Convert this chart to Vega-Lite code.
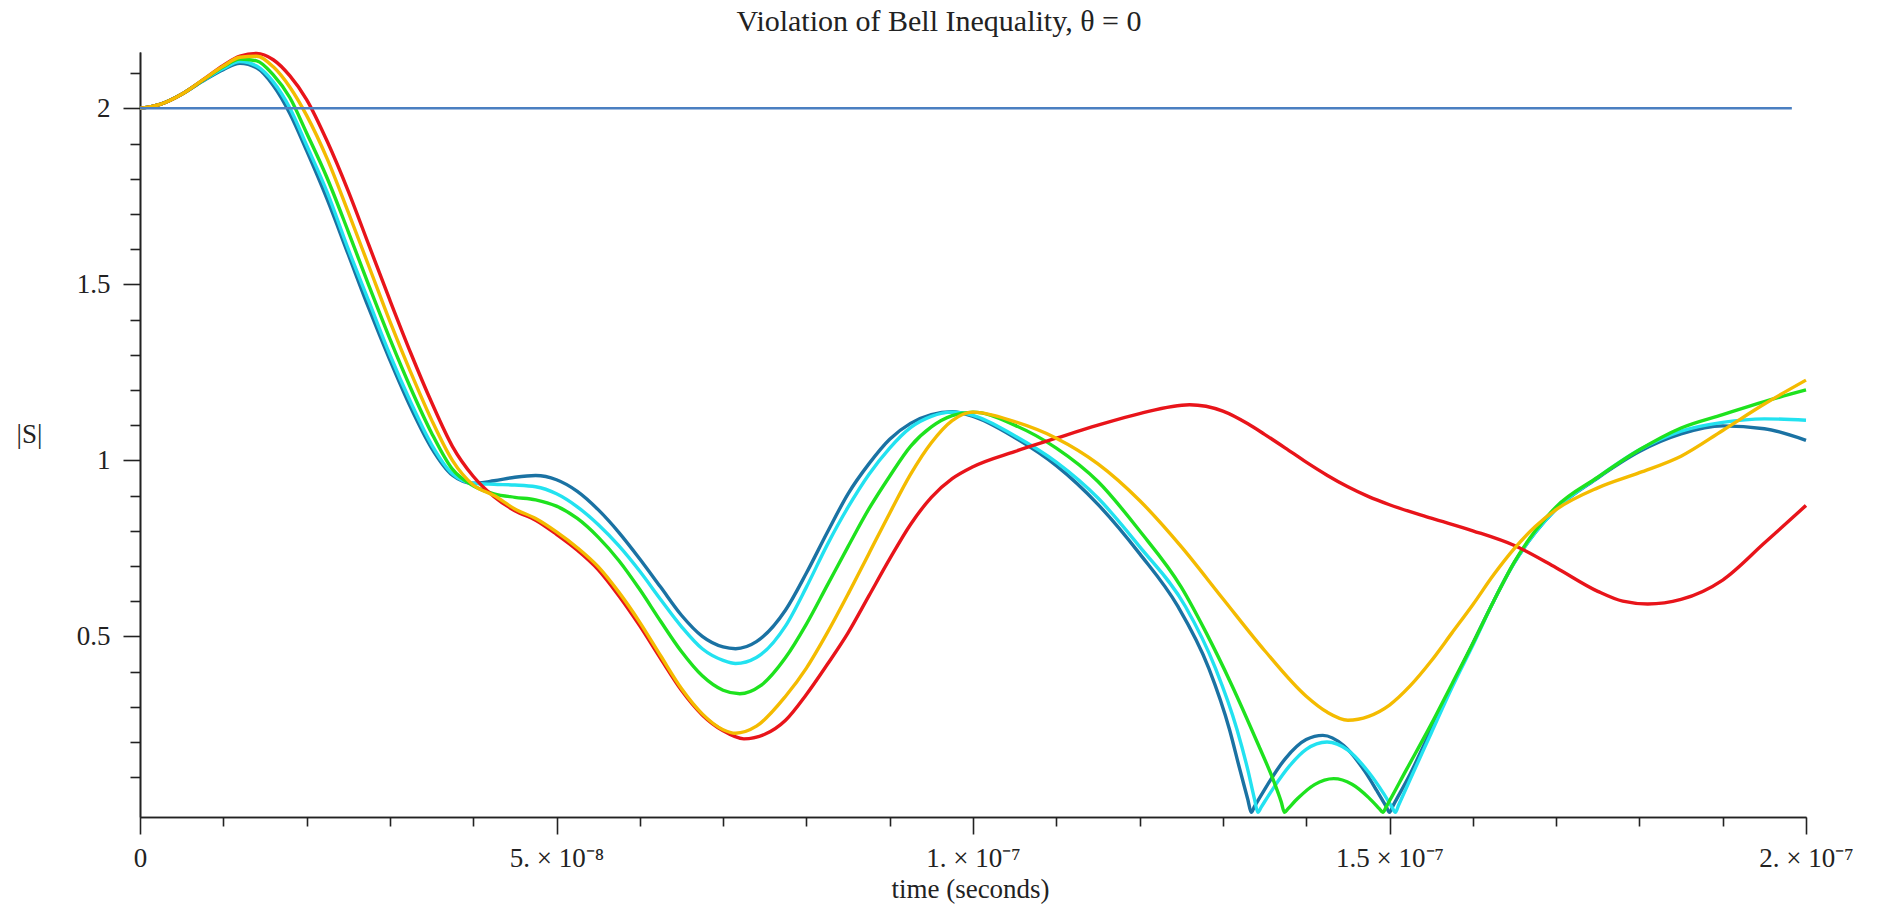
{
"$schema": "https://vega.github.io/schema/vega-lite/v6.json",
"width": 1666, "height": 765,
"autosize": {"type": "none"},
"padding": {"left": 140, "top": 52, "right": 77, "bottom": 90},
"background": "white",
"title": {"text": "Violation of Bell Inequality, θ = 0", "font": "Liberation Serif", "fontSize": 30, "fontWeight": "normal", "color": "#222", "anchor": "middle", "frame": "group", "dx": -34, "offset": 10},
"config": {"view": {"stroke": null}, "axis": {"grid": false, "domainColor": "#222", "tickColor": "#222", "domainWidth": 1.6, "tickWidth": 1.6, "labelFont": "Liberation Serif", "labelFontSize": 27, "labelColor": "#222", "titleFont": "Liberation Serif", "titleFontSize": 27, "titleFontWeight": "normal", "titleColor": "#222", "labelOverlap": false, "labelBound": false, "labelFlush": false}},
"datasets": {"curves": [
{"series":"s1","time":0,"S":2.0},{"series":"s1","time":0.25e-8,"S":2.012},{"series":"s1","time":0.5e-8,"S":2.04},{"series":"s1","time":0.75e-8,"S":2.077},{"series":"s1","time":1.0e-8,"S":2.11},{"series":"s1","time":1.2e-8,"S":2.128},{"series":"s1","time":1.4e-8,"S":2.115},{"series":"s1","time":1.6e-8,"S":2.065},{"series":"s1","time":1.8e-8,"S":1.985},{"series":"s1","time":2.0e-8,"S":1.88},{"series":"s1","time":2.25e-8,"S":1.74},{"series":"s1","time":2.5e-8,"S":1.585},{"series":"s1","time":2.75e-8,"S":1.43},{"series":"s1","time":3.0e-8,"S":1.285},{"series":"s1","time":3.25e-8,"S":1.15},{"series":"s1","time":3.5e-8,"S":1.035},{"series":"s1","time":3.75e-8,"S":0.958},{"series":"s1","time":4.0e-8,"S":0.935},{"series":"s1","time":4.25e-8,"S":0.942},{"series":"s1","time":4.5e-8,"S":0.952},{"series":"s1","time":4.75e-8,"S":0.957},{"series":"s1","time":5.0e-8,"S":0.945},{"series":"s1","time":5.25e-8,"S":0.912},{"series":"s1","time":5.5e-8,"S":0.86},{"series":"s1","time":5.75e-8,"S":0.795},{"series":"s1","time":6.0e-8,"S":0.72},{"series":"s1","time":6.25e-8,"S":0.64},{"series":"s1","time":6.5e-8,"S":0.56},{"series":"s1","time":6.75e-8,"S":0.5},{"series":"s1","time":7.0e-8,"S":0.47},{"series":"s1","time":7.15e-8,"S":0.465},{"series":"s1","time":7.4e-8,"S":0.485},{"series":"s1","time":7.75e-8,"S":0.575},{"series":"s1","time":8.0e-8,"S":0.68},{"series":"s1","time":8.25e-8,"S":0.795},{"series":"s1","time":8.5e-8,"S":0.905},{"series":"s1","time":8.75e-8,"S":0.99},{"series":"s1","time":9.0e-8,"S":1.06},{"series":"s1","time":9.25e-8,"S":1.105},{"series":"s1","time":9.5e-8,"S":1.13},{"series":"s1","time":9.75e-8,"S":1.138},{"series":"s1","time":10.0e-8,"S":1.125},{"series":"s1","time":10.5e-8,"S":1.065},{"series":"s1","time":11.0e-8,"S":0.985},{"series":"s1","time":11.5e-8,"S":0.875},{"series":"s1","time":12.0e-8,"S":0.735},{"series":"s1","time":12.46e-8,"S":0.585},{"series":"s1","time":12.83e-8,"S":0.41},{"series":"s1","time":13.08e-8,"S":0.235},{"series":"s1","time":13.2e-8,"S":0.125},{"series":"s1","time":13.3e-8,"S":0.036},{"series":"s1","time":13.34e-8,"S":0.0},{"series":"s1","time":13.38e-8,"S":0.017},{"series":"s1","time":13.5e-8,"S":0.065},{"series":"s1","time":13.75e-8,"S":0.153},{"series":"s1","time":14.0e-8,"S":0.207},{"series":"s1","time":14.2e-8,"S":0.219},{"series":"s1","time":14.45e-8,"S":0.19},{"series":"s1","time":14.7e-8,"S":0.118},{"series":"s1","time":14.85e-8,"S":0.061},{"series":"s1","time":14.96e-8,"S":0.017},{"series":"s1","time":15.0e-8,"S":0.0},{"series":"s1","time":15.04e-8,"S":0.018},{"series":"s1","time":15.25e-8,"S":0.11},{"series":"s1","time":15.5e-8,"S":0.235},{"series":"s1","time":15.75e-8,"S":0.36},{"series":"s1","time":16.0e-8,"S":0.48},{"series":"s1","time":16.25e-8,"S":0.6},{"series":"s1","time":16.5e-8,"S":0.71},{"series":"s1","time":16.75e-8,"S":0.795},{"series":"s1","time":17.0e-8,"S":0.862},{"series":"s1","time":17.5e-8,"S":0.95},{"series":"s1","time":18.0e-8,"S":1.025},{"series":"s1","time":18.5e-8,"S":1.075},{"series":"s1","time":19.0e-8,"S":1.098},{"series":"s1","time":19.5e-8,"S":1.09},{"series":"s1","time":20.0e-8,"S":1.057},
{"series":"s2","time":0,"S":2.0},{"series":"s2","time":0.25e-8,"S":2.012},{"series":"s2","time":0.5e-8,"S":2.04},{"series":"s2","time":0.75e-8,"S":2.078},{"series":"s2","time":1.0e-8,"S":2.113},{"series":"s2","time":1.2e-8,"S":2.133},{"series":"s2","time":1.4e-8,"S":2.12},{"series":"s2","time":1.6e-8,"S":2.075},{"series":"s2","time":1.8e-8,"S":2.0},{"series":"s2","time":2.0e-8,"S":1.895},{"series":"s2","time":2.25e-8,"S":1.76},{"series":"s2","time":2.5e-8,"S":1.6},{"series":"s2","time":2.75e-8,"S":1.45},{"series":"s2","time":3.0e-8,"S":1.3},{"series":"s2","time":3.25e-8,"S":1.165},{"series":"s2","time":3.5e-8,"S":1.045},{"series":"s2","time":3.75e-8,"S":0.962},{"series":"s2","time":4.0e-8,"S":0.935},{"series":"s2","time":4.25e-8,"S":0.932},{"series":"s2","time":4.5e-8,"S":0.93},{"series":"s2","time":4.75e-8,"S":0.925},{"series":"s2","time":5.0e-8,"S":0.905},{"series":"s2","time":5.25e-8,"S":0.868},{"series":"s2","time":5.5e-8,"S":0.818},{"series":"s2","time":5.75e-8,"S":0.757},{"series":"s2","time":6.0e-8,"S":0.685},{"series":"s2","time":6.25e-8,"S":0.605},{"series":"s2","time":6.5e-8,"S":0.528},{"series":"s2","time":6.75e-8,"S":0.465},{"series":"s2","time":7.0e-8,"S":0.432},{"series":"s2","time":7.15e-8,"S":0.423},{"series":"s2","time":7.4e-8,"S":0.44},{"series":"s2","time":7.75e-8,"S":0.53},{"series":"s2","time":8.0e-8,"S":0.64},{"series":"s2","time":8.25e-8,"S":0.76},{"series":"s2","time":8.5e-8,"S":0.867},{"series":"s2","time":8.75e-8,"S":0.96},{"series":"s2","time":9.0e-8,"S":1.035},{"series":"s2","time":9.25e-8,"S":1.093},{"series":"s2","time":9.5e-8,"S":1.125},{"series":"s2","time":9.75e-8,"S":1.137},{"series":"s2","time":10.0e-8,"S":1.128},{"series":"s2","time":10.5e-8,"S":1.07},{"series":"s2","time":11.0e-8,"S":0.995},{"series":"s2","time":11.5e-8,"S":0.893},{"series":"s2","time":12.0e-8,"S":0.755},{"series":"s2","time":12.55e-8,"S":0.585},{"series":"s2","time":12.91e-8,"S":0.41},{"series":"s2","time":13.17e-8,"S":0.235},{"series":"s2","time":13.3e-8,"S":0.12},{"series":"s2","time":13.38e-8,"S":0.037},{"series":"s2","time":13.42e-8,"S":0.0},{"series":"s2","time":13.46e-8,"S":0.015},{"series":"s2","time":13.6e-8,"S":0.067},{"series":"s2","time":13.8e-8,"S":0.132},{"series":"s2","time":14.0e-8,"S":0.179},{"series":"s2","time":14.25e-8,"S":0.2},{"series":"s2","time":14.5e-8,"S":0.177},{"series":"s2","time":14.75e-8,"S":0.114},{"series":"s2","time":14.92e-8,"S":0.057},{"series":"s2","time":15.03e-8,"S":0.015},{"series":"s2","time":15.07e-8,"S":0.0},{"series":"s2","time":15.11e-8,"S":0.021},{"series":"s2","time":15.25e-8,"S":0.095},{"series":"s2","time":15.5e-8,"S":0.225},{"series":"s2","time":15.75e-8,"S":0.355},{"series":"s2","time":16.0e-8,"S":0.475},{"series":"s2","time":16.25e-8,"S":0.6},{"series":"s2","time":16.5e-8,"S":0.71},{"series":"s2","time":16.75e-8,"S":0.795},{"series":"s2","time":17.0e-8,"S":0.862},{"series":"s2","time":17.5e-8,"S":0.952},{"series":"s2","time":18.0e-8,"S":1.03},{"series":"s2","time":18.5e-8,"S":1.083},{"series":"s2","time":19.0e-8,"S":1.108},{"series":"s2","time":19.5e-8,"S":1.118},{"series":"s2","time":20.0e-8,"S":1.114},
{"series":"s3","time":0,"S":2.0},{"series":"s3","time":0.25e-8,"S":2.012},{"series":"s3","time":0.5e-8,"S":2.04},{"series":"s3","time":0.75e-8,"S":2.079},{"series":"s3","time":1.0e-8,"S":2.118},{"series":"s3","time":1.2e-8,"S":2.14},{"series":"s3","time":1.4e-8,"S":2.135},{"series":"s3","time":1.6e-8,"S":2.095},{"series":"s3","time":1.8e-8,"S":2.03},{"series":"s3","time":2.0e-8,"S":1.93},{"series":"s3","time":2.25e-8,"S":1.8},{"series":"s3","time":2.5e-8,"S":1.65},{"series":"s3","time":2.75e-8,"S":1.495},{"series":"s3","time":3.0e-8,"S":1.345},{"series":"s3","time":3.25e-8,"S":1.205},{"series":"s3","time":3.5e-8,"S":1.078},{"series":"s3","time":3.75e-8,"S":0.975},{"series":"s3","time":4.0e-8,"S":0.928},{"series":"s3","time":4.25e-8,"S":0.905},{"series":"s3","time":4.5e-8,"S":0.895},{"series":"s3","time":4.75e-8,"S":0.888},{"series":"s3","time":5.0e-8,"S":0.87},{"series":"s3","time":5.25e-8,"S":0.835},{"series":"s3","time":5.5e-8,"S":0.782},{"series":"s3","time":5.75e-8,"S":0.715},{"series":"s3","time":6.0e-8,"S":0.633},{"series":"s3","time":6.25e-8,"S":0.543},{"series":"s3","time":6.5e-8,"S":0.457},{"series":"s3","time":6.75e-8,"S":0.388},{"series":"s3","time":7.0e-8,"S":0.347},{"series":"s3","time":7.2e-8,"S":0.337},{"series":"s3","time":7.45e-8,"S":0.36},{"series":"s3","time":7.75e-8,"S":0.44},{"series":"s3","time":8.0e-8,"S":0.535},{"series":"s3","time":8.25e-8,"S":0.645},{"series":"s3","time":8.5e-8,"S":0.755},{"series":"s3","time":8.75e-8,"S":0.862},{"series":"s3","time":9.0e-8,"S":0.955},{"series":"s3","time":9.25e-8,"S":1.04},{"series":"s3","time":9.5e-8,"S":1.095},{"series":"s3","time":9.75e-8,"S":1.127},{"series":"s3","time":10.0e-8,"S":1.137},{"series":"s3","time":10.5e-8,"S":1.1},{"series":"s3","time":11.0e-8,"S":1.035},{"series":"s3","time":11.5e-8,"S":0.94},{"series":"s3","time":12.0e-8,"S":0.8},{"series":"s3","time":12.5e-8,"S":0.64},{"series":"s3","time":12.8e-8,"S":0.51},{"series":"s3","time":13.1e-8,"S":0.365},{"series":"s3","time":13.42e-8,"S":0.195},{"series":"s3","time":13.6e-8,"S":0.095},{"series":"s3","time":13.7e-8,"S":0.03},{"series":"s3","time":13.74e-8,"S":0.0},{"series":"s3","time":13.78e-8,"S":0.01},{"series":"s3","time":13.9e-8,"S":0.04},{"series":"s3","time":14.1e-8,"S":0.079},{"series":"s3","time":14.33e-8,"S":0.096},{"series":"s3","time":14.55e-8,"S":0.08},{"series":"s3","time":14.75e-8,"S":0.042},{"series":"s3","time":14.88e-8,"S":0.01},{"series":"s3","time":14.92e-8,"S":0.0},{"series":"s3","time":14.96e-8,"S":0.016},{"series":"s3","time":15.2e-8,"S":0.12},{"series":"s3","time":15.5e-8,"S":0.25},{"series":"s3","time":15.75e-8,"S":0.365},{"series":"s3","time":16.0e-8,"S":0.48},{"series":"s3","time":16.25e-8,"S":0.6},{"series":"s3","time":16.5e-8,"S":0.712},{"series":"s3","time":16.75e-8,"S":0.8},{"series":"s3","time":17.0e-8,"S":0.868},{"series":"s3","time":17.5e-8,"S":0.952},{"series":"s3","time":18.0e-8,"S":1.03},{"series":"s3","time":18.5e-8,"S":1.092},{"series":"s3","time":19.0e-8,"S":1.13},{"series":"s3","time":19.5e-8,"S":1.167},{"series":"s3","time":20.0e-8,"S":1.2},
{"series":"s4","time":0,"S":2.0},{"series":"s4","time":0.25e-8,"S":2.012},{"series":"s4","time":0.5e-8,"S":2.04},{"series":"s4","time":0.75e-8,"S":2.08},{"series":"s4","time":1.0e-8,"S":2.122},{"series":"s4","time":1.2e-8,"S":2.148},{"series":"s4","time":1.4e-8,"S":2.156},{"series":"s4","time":1.6e-8,"S":2.138},{"series":"s4","time":1.8e-8,"S":2.092},{"series":"s4","time":2.0e-8,"S":2.025},{"series":"s4","time":2.25e-8,"S":1.905},{"series":"s4","time":2.5e-8,"S":1.765},{"series":"s4","time":2.75e-8,"S":1.61},{"series":"s4","time":3.0e-8,"S":1.455},{"series":"s4","time":3.25e-8,"S":1.305},{"series":"s4","time":3.5e-8,"S":1.165},{"series":"s4","time":3.75e-8,"S":1.04},{"series":"s4","time":4.0e-8,"S":0.955},{"series":"s4","time":4.25e-8,"S":0.897},{"series":"s4","time":4.5e-8,"S":0.857},{"series":"s4","time":4.75e-8,"S":0.83},{"series":"s4","time":5.0e-8,"S":0.79},{"series":"s4","time":5.25e-8,"S":0.745},{"series":"s4","time":5.5e-8,"S":0.69},{"series":"s4","time":5.75e-8,"S":0.615},{"series":"s4","time":6.0e-8,"S":0.53},{"series":"s4","time":6.25e-8,"S":0.437},{"series":"s4","time":6.5e-8,"S":0.347},{"series":"s4","time":6.75e-8,"S":0.277},{"series":"s4","time":7.0e-8,"S":0.232},{"series":"s4","time":7.25e-8,"S":0.209},{"series":"s4","time":7.5e-8,"S":0.222},{"series":"s4","time":7.75e-8,"S":0.262},{"series":"s4","time":8.0e-8,"S":0.335},{"series":"s4","time":8.25e-8,"S":0.42},{"series":"s4","time":8.5e-8,"S":0.51},{"series":"s4","time":8.75e-8,"S":0.615},{"series":"s4","time":9.0e-8,"S":0.72},{"series":"s4","time":9.25e-8,"S":0.818},{"series":"s4","time":9.5e-8,"S":0.895},{"series":"s4","time":9.75e-8,"S":0.948},{"series":"s4","time":10.0e-8,"S":0.982},{"series":"s4","time":10.5e-8,"S":1.025},{"series":"s4","time":11.0e-8,"S":1.063},{"series":"s4","time":11.5e-8,"S":1.1},{"series":"s4","time":12.0e-8,"S":1.133},{"series":"s4","time":12.6e-8,"S":1.158},{"series":"s4","time":13.0e-8,"S":1.14},{"series":"s4","time":13.3e-8,"S":1.104},{"series":"s4","time":13.5e-8,"S":1.074},{"series":"s4","time":13.75e-8,"S":1.035},{"series":"s4","time":14.0e-8,"S":0.995},{"series":"s4","time":14.25e-8,"S":0.958},{"series":"s4","time":14.5e-8,"S":0.925},{"series":"s4","time":14.75e-8,"S":0.897},{"series":"s4","time":15.0e-8,"S":0.874},{"series":"s4","time":15.5e-8,"S":0.836},{"series":"s4","time":16.0e-8,"S":0.8},{"series":"s4","time":16.5e-8,"S":0.758},{"series":"s4","time":17.0e-8,"S":0.695},{"series":"s4","time":17.5e-8,"S":0.628},{"series":"s4","time":17.8e-8,"S":0.6},{"series":"s4","time":18.1e-8,"S":0.592},{"series":"s4","time":18.5e-8,"S":0.605},{"series":"s4","time":19.0e-8,"S":0.66},{"series":"s4","time":19.5e-8,"S":0.765},{"series":"s4","time":20.0e-8,"S":0.872},
{"series":"s5","time":0,"S":2.0},{"series":"s5","time":0.25e-8,"S":2.012},{"series":"s5","time":0.5e-8,"S":2.04},{"series":"s5","time":0.75e-8,"S":2.08},{"series":"s5","time":1.0e-8,"S":2.12},{"series":"s5","time":1.2e-8,"S":2.145},{"series":"s5","time":1.4e-8,"S":2.148},{"series":"s5","time":1.6e-8,"S":2.118},{"series":"s5","time":1.8e-8,"S":2.06},{"series":"s5","time":2.0e-8,"S":1.98},{"series":"s5","time":2.25e-8,"S":1.855},{"series":"s5","time":2.5e-8,"S":1.705},{"series":"s5","time":2.75e-8,"S":1.55},{"series":"s5","time":3.0e-8,"S":1.395},{"series":"s5","time":3.25e-8,"S":1.25},{"series":"s5","time":3.5e-8,"S":1.115},{"series":"s5","time":3.75e-8,"S":1.0},{"series":"s5","time":4.0e-8,"S":0.93},{"series":"s5","time":4.25e-8,"S":0.9},{"series":"s5","time":4.5e-8,"S":0.862},{"series":"s5","time":4.75e-8,"S":0.835},{"series":"s5","time":5.0e-8,"S":0.797},{"series":"s5","time":5.25e-8,"S":0.752},{"series":"s5","time":5.5e-8,"S":0.698},{"series":"s5","time":5.75e-8,"S":0.625},{"series":"s5","time":6.0e-8,"S":0.54},{"series":"s5","time":6.25e-8,"S":0.445},{"series":"s5","time":6.5e-8,"S":0.352},{"series":"s5","time":6.75e-8,"S":0.28},{"series":"s5","time":7.0e-8,"S":0.235},{"series":"s5","time":7.15e-8,"S":0.225},{"series":"s5","time":7.4e-8,"S":0.245},{"series":"s5","time":7.75e-8,"S":0.33},{"series":"s5","time":8.0e-8,"S":0.41},{"series":"s5","time":8.25e-8,"S":0.51},{"series":"s5","time":8.5e-8,"S":0.62},{"series":"s5","time":8.75e-8,"S":0.735},{"series":"s5","time":9.0e-8,"S":0.85},{"series":"s5","time":9.25e-8,"S":0.96},{"series":"s5","time":9.5e-8,"S":1.05},{"series":"s5","time":9.75e-8,"S":1.113},{"series":"s5","time":10.0e-8,"S":1.137},{"series":"s5","time":10.5e-8,"S":1.11},{"series":"s5","time":11.0e-8,"S":1.063},{"series":"s5","time":11.5e-8,"S":0.99},{"series":"s5","time":12.0e-8,"S":0.886},{"series":"s5","time":12.5e-8,"S":0.755},{"series":"s5","time":13.0e-8,"S":0.607},{"series":"s5","time":13.5e-8,"S":0.46},{"series":"s5","time":14.0e-8,"S":0.33},{"series":"s5","time":14.25e-8,"S":0.285},{"series":"s5","time":14.5e-8,"S":0.262},{"series":"s5","time":14.75e-8,"S":0.273},{"series":"s5","time":15.0e-8,"S":0.305},{"series":"s5","time":15.25e-8,"S":0.36},{"series":"s5","time":15.5e-8,"S":0.43},{"series":"s5","time":15.75e-8,"S":0.51},{"series":"s5","time":16.0e-8,"S":0.59},{"series":"s5","time":16.25e-8,"S":0.675},{"series":"s5","time":16.5e-8,"S":0.75},{"series":"s5","time":16.75e-8,"S":0.812},{"series":"s5","time":17.0e-8,"S":0.86},{"series":"s5","time":17.5e-8,"S":0.922},{"series":"s5","time":18.0e-8,"S":0.965},{"series":"s5","time":18.5e-8,"S":1.012},{"series":"s5","time":19.0e-8,"S":1.085},{"series":"s5","time":19.5e-8,"S":1.16},{"series":"s5","time":20.0e-8,"S":1.228}
],
"limit": [{"time": 0, "S": 2}, {"time": 1.983e-7, "S": 2}]},
"layer": [
{"data": {"name": "curves"},
 "mark": {"type": "line", "interpolate": "monotone", "strokeWidth": 3.4},
 "encoding": {
  "x": {"field": "time", "type": "quantitative", "scale": {"domain": [0, 2e-7], "nice": false, "zero": false},
        "axis": {"orient": "bottom", "values": [1e-8,2e-8,3e-8,4e-8,6e-8,7e-8,8e-8,9e-8,11e-8,12e-8,13e-8,14e-8,16e-8,17e-8,18e-8,19e-8], "labels": false, "tickSize": 9, "title": null}},
  "y": {"field": "S", "type": "quantitative", "scale": {"domain": [-0.013, 2.16], "nice": false, "zero": false},
        "axis": {"orient": "left", "values": [0.1,0.2,0.3,0.4,0.6,0.7,0.8,0.9,1.1,1.2,1.3,1.4,1.6,1.7,1.8,1.9,2.1], "labels": false, "tickSize": 10, "title": null}},
  "color": {"field": "series", "type": "nominal", "scale": {"domain": ["s1","s2","s3","s4","s5"], "range": ["#1a72a3","#22e2f0","#1ee21e","#e8141a","#f4bb00"]}, "legend": null}
 }},
{"data": {"name": "limit"},
 "mark": {"type": "line", "color": "#4a7fc1", "strokeWidth": 2.5},
 "encoding": {
  "x": {"field": "time", "type": "quantitative",
        "axis": {"orient": "bottom", "values": [0, 5e-8, 1e-7, 1.5e-7, 2e-7], "tickSize": 17, "labelPadding": 11,
                 "labelExpr": "datum.value == 0 ? '0' : datum.value < 7e-8 ? '5. × 10⁻⁸' : datum.value < 1.2e-7 ? '1. × 10⁻⁷' : datum.value < 1.7e-7 ? '1.5 × 10⁻⁷' : '2. × 10⁻⁷'",
                 "title": "time (seconds)", "titleX": 830, "titleY": 72, "titleAlign": "center", "titleBaseline": "middle"}},
  "y": {"field": "S", "type": "quantitative",
        "axis": {"orient": "left", "values": [0.5, 1, 1.5, 2], "tickSize": 17, "labelPadding": 13, "format": "~g",
                 "title": "|S|", "titleAngle": 0, "titleX": -111, "titleY": 382, "titleAlign": "center", "titleBaseline": "middle"}}
 }}
],
"resolve": {"axis": {"x": "independent", "y": "independent"}}
}
